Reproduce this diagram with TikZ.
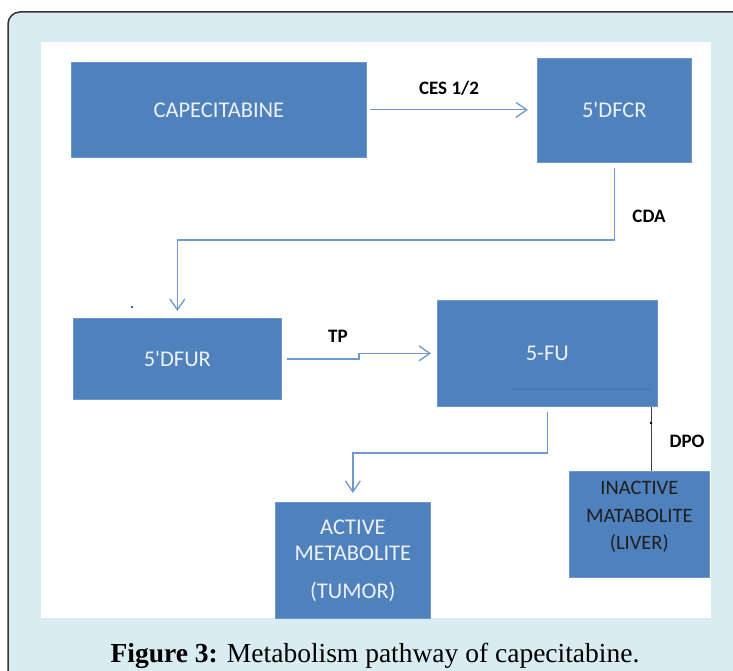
\documentclass[tikz,border=0pt]{standalone}
\usepackage{fontspec}
\setmainfont{Liberation Serif}
\newfontfamily\calibfont{Carlito}
\usetikzlibrary{arrows.meta}
\definecolor{bgblue}{HTML}{D8ECF2}
\definecolor{boxblue}{HTML}{4F81BD}
\definecolor{boxedge}{HTML}{6E97CC}
\definecolor{linkblue}{HTML}{6F9AD0}
\definecolor{boxtext}{HTML}{EEF2F8}
\definecolor{darktext}{HTML}{1E1E1E}
\definecolor{frameedge}{HTML}{333333}
\definecolor{innerline}{HTML}{4674AE}
\begin{document}
\begin{tikzpicture}[x=1pt,y=-1pt,
  box/.style={rectangle, fill=boxblue, draw=boxedge, line width=0.7pt, anchor=north west,
    inner sep=0pt, font=\calibfont\fontsize{22.5}{26}\selectfont, text=boxtext, align=center},
  conn/.style={draw=linkblue, line width=1.3pt, -{Straight Barb[length=11pt,width=15pt]}},
  lbl/.style={font=\calibfont\bfseries\fontsize{19}{22}\selectfont, text=black, inner sep=0pt}]
\useasboundingbox (0,0) rectangle (733,671);
\path[fill=bgblue, draw=frameedge, line width=1.5pt, rounded corners=12pt] (8,12) rectangle (760,700);
\fill[white] (41,42) rectangle (711,618);

\node[box, minimum width=295pt, minimum height=95pt] (cap) at (71,62) {CAPECITABINE};
\node[box, minimum width=154pt, minimum height=104pt] (dfcr) at (537,58) {5\textquotesingle DFCR};
\node[box, minimum width=208pt, minimum height=81pt] (dfur) at (73,318) {5\textquotesingle DFUR};
\node[box, minimum width=220pt, minimum height=106pt] (fu) at (437,300) {5-FU};
\node[box, minimum width=155pt, minimum height=116pt] (act) at (275,502) {ACTIVE\\METABOLITE\\[12pt](TUMOR)};
\node[box, minimum width=140pt, minimum height=106pt, text=darktext,
  font=\calibfont\fontsize{20.5}{27.5}\selectfont] (inact) at (569,471) {INACTIVE\\MATABOLITE\\(LIVER)\\[-10pt]};

\draw[innerline, line width=0.6pt] (512,389) -- (651,389);

\draw[conn, shorten <=3pt, shorten >=9pt] (cap.east) -- (cap.east -| dfcr.west);
\coordinate (cdarow) at (0,240);
\draw[conn, shorten <=5pt, shorten >=7pt] (dfcr.south) -- (dfcr.south |- cdarow) -| (dfur.north);
\coordinate (tpstep) at (359,0);
\draw[conn, shorten <=5pt, shorten >=6pt] (dfur.east) -- (tpstep |- dfur.east) -- (tpstep |- fu.west) -- (fu.west);
\coordinate (furow) at (0,453);
\draw[conn, shorten <=5pt, shorten >=9pt] (fu.south) -- (fu.south |- furow) -| (act.north);
\coordinate (dpox) at (651,0);
\draw[line width=1pt, draw=black!75] (fu.south -| dpox) -- (inact.north -| dpox);
\fill[black] (651,423) circle (1.4pt);
\fill[boxblue!70!black] (132,307) circle (1.4pt);

\node[lbl] (ces) at (449,88) {CES 1/2};
\node[lbl] (cda) at (649,216) {CDA};
\node[lbl] (tp) at (338,336) {TP};
\node[lbl] (dpo) at (687,441) {DPO};

\node[anchor=base, font=\fontsize{27.5}{33}\selectfont, inner sep=0pt] (caption) at (375,662)
  {\textbf{Figure 3:} Metabolism pathway of capecitabine.};
\end{tikzpicture}
\end{document}
